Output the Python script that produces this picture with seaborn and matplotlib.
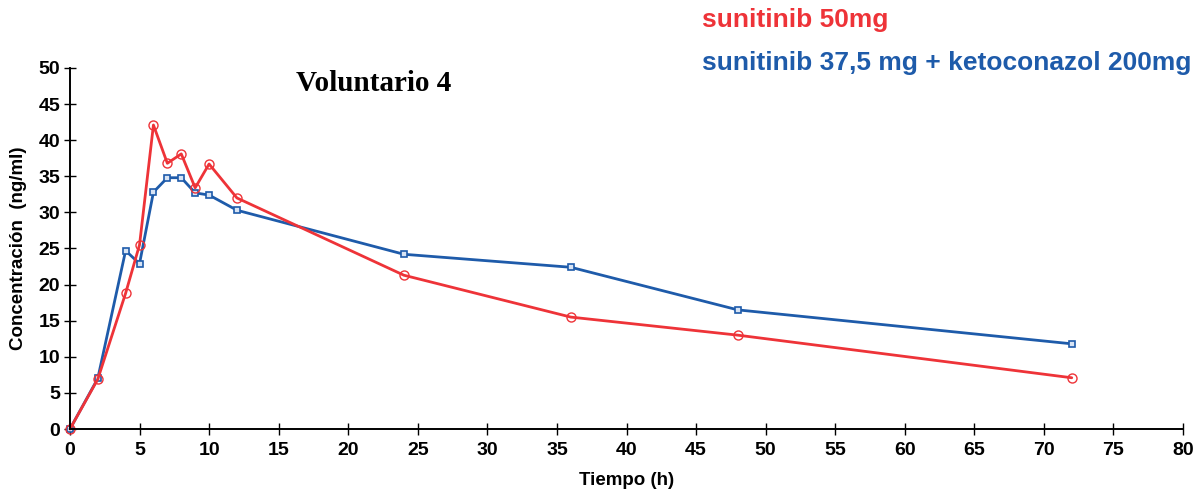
import matplotlib
matplotlib.use("Agg")
import matplotlib.pyplot as plt
import seaborn as sns
import pandas as pd

time_h = [0, 2, 4, 5, 6, 7, 8, 9, 10, 12, 24, 36, 48, 72]
suni_50 = [0, 6.9, 18.8, 25.5, 42.1, 36.8, 38.1, 33.4, 36.7, 32.0, 21.3, 15.5, 13.0, 7.1]
suni_keto = [0, 7.0, 24.7, 22.9, 32.8, 34.8, 34.8, 32.7, 32.4, 30.3, 24.2, 22.4, 16.5, 11.8]
label_red = "sunitinib 50mg"
label_blue = "sunitinib 37,5 mg + ketoconazol 200mg"
x_ticks = list(range(0, 81, 5))
y_ticks = list(range(0, 51, 5))

RED = "#EE3338"
BLUE = "#1E5BAA"

sns.set_theme(style="white")
plt.rcParams['font.family'] = ['Liberation Sans', 'DejaVu Sans']
plt.rcParams['text.color'] = 'black'
plt.rcParams['axes.labelcolor'] = 'black'
plt.rcParams['xtick.color'] = 'black'
plt.rcParams['ytick.color'] = 'black'

fig = plt.figure(figsize=(12.04, 4.96), dpi=100)
ax = fig.add_axes([0.0581, 0.135, 0.9245, 0.728])

df_b = pd.DataFrame({"t": time_h, "c": suni_keto})
df_r = pd.DataFrame({"t": time_h, "c": suni_50})
sns.lineplot(data=df_b, x="t", y="c", ax=ax, color=BLUE, lw=2, marker="s",
             markersize=5, markerfacecolor="#d8e4f4", markeredgecolor=BLUE,
             markeredgewidth=1.2, clip_on=False)
sns.lineplot(data=df_r, x="t", y="c", ax=ax, color=RED, lw=2, marker="o",
             markersize=6.5, markerfacecolor="none", markeredgecolor=RED,
             markeredgewidth=1.0, clip_on=False)

ax.set_xlim(0, 80)
ax.set_ylim(0, 50)
ax.set_xticks(x_ticks)
ax.set_yticks(y_ticks)
ax.set_xticklabels([str(v) for v in x_ticks], fontsize=14, fontweight="bold")
ax.set_yticklabels([str(v) for v in y_ticks], fontsize=14, fontweight="bold")
ax.tick_params(axis="both", direction="inout", length=8, width=1.0, colors="black",
               bottom=True, left=True)
ax.tick_params(axis="x", pad=5)
ax.tick_params(axis="y", pad=3)
for s in ["top", "right"]:
    ax.spines[s].set_visible(False)
for s in ["left", "bottom"]:
    ax.spines[s].set_color("black")
    ax.spines[s].set_linewidth(1.4)
ax.set_xlabel("Tiempo (h)", fontsize=13.5, fontweight="bold", labelpad=10, color="black")
ax.set_ylabel("Concentración  (ng/ml)", fontsize=13.5, fontweight="bold", labelpad=8, color="black")

fig.text(0.31, 0.832, "Voluntario 4", fontsize=21, fontweight="bold",
         family=["Liberation Serif", "DejaVu Serif"], ha="center", va="center", color="black")
fig.text(0.583, 0.96, label_red, fontsize=19, fontweight="bold", color=RED,
         ha="left", va="center")
fig.text(0.583, 0.873, label_blue, fontsize=19, fontweight="bold", color=BLUE,
         ha="left", va="center")

fig.savefig("out.png", dpi=100)
